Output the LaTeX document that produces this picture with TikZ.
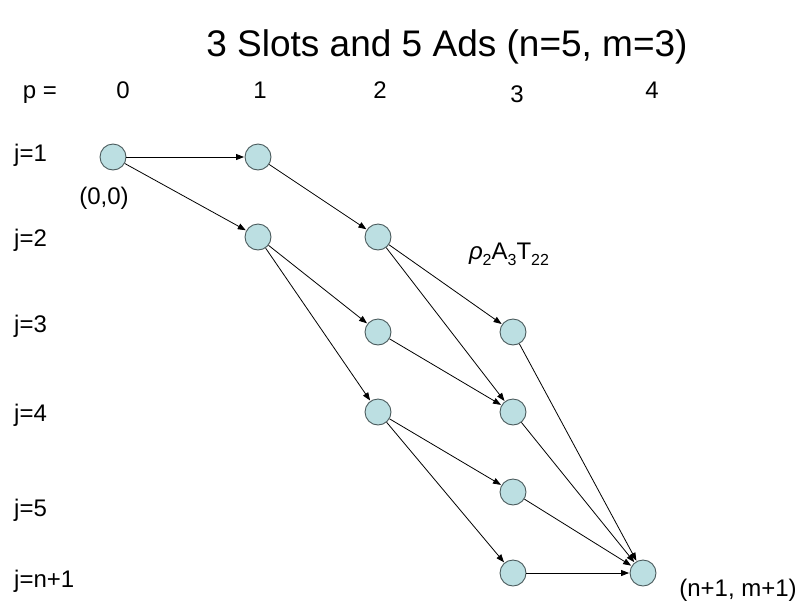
\documentclass[tikz,border=0pt]{standalone}
\usepackage{fontspec}
\setmainfont{Liberation Sans}
\usepackage{tikz}
\usetikzlibrary{positioning,arrows.meta}
\usepackage{xcolor}
\definecolor{stateFill}{HTML}{BCDFE2}
\definecolor{stateRim}{HTML}{4A5A5C}
\newcommand{\lowSub}[1]{\raisebox{-0.45ex}{\fontsize{16}{16}\selectfont #1}}

\begin{document}
\begin{tikzpicture}[x=1pt, y=-1pt,
        stateDot/.style={circle, draw=stateRim, fill=stateFill, line width=0.9pt, minimum size=26pt, inner sep=0pt},
        axisLabel/.style={font=\fontsize{24}{26}\selectfont, inner sep=0pt},
        arrowStyle/.style={-{Triangle[length=8pt, width=6pt]}, line width=0.8pt, draw=black, shorten >=0.5pt}
    ]
        \useasboundingbox (0,0) rectangle (800,603);

        % Title
        \node[font=\fontsize{37}{40}\selectfont, inner sep=0pt] (title) at (447,47) {3 Slots and 5 Ads (n=5, m=3)};

        % Column labels
        \node[axisLabel, anchor=base] (pLabel) at (40,98) {p =};
        \node[axisLabel] (pZero) at (123,90) {0};
        \node[axisLabel] (pOne) at (260,90) {1};
        \node[axisLabel] (pTwo) at (380,90) {2};
        \node[axisLabel] (pThree) at (517,94) {3};
        \node[axisLabel] (pFour) at (652,90) {4};

        % Row labels
        \node[axisLabel, anchor=west] (jOne) at (14,155) {j=1};
        \node[axisLabel, anchor=west] (jTwo) at (14,240) {j=2};
        \node[axisLabel, anchor=west] (jThree) at (14,326) {j=3};
        \node[axisLabel, anchor=west] (jFour) at (14,415) {j=4};
        \node[axisLabel, anchor=west] (jFive) at (14,510) {j=5};
        \node[axisLabel, anchor=west] (jLast) at (14,581) {j=n+1};

        % States
        \node[stateDot] (p0j1) at (113,157) {};
        \node[stateDot] (p1j1) at (258,157) {};
        \node[stateDot] (p1j2) at (258,237) {};
        \node[stateDot] (p2j2) at (378,237) {};
        \node[stateDot] (p2j3) at (378,332) {};
        \node[stateDot] (p2j4) at (378,412) {};
        \node[stateDot] (p3j3) at (513,332) {};
        \node[stateDot] (p3j4) at (513,412) {};
        \node[stateDot] (p3j5) at (513,492) {};
        \node[stateDot] (p3jLast) at (513,573) {};
        \node[stateDot] (p4jLast) at (643,573) {};

        % Extra labels
        \node[axisLabel] (startLabel) at (104,198) {(0,0)};
        \node[axisLabel] (edgeLabel) at (509,254) {\textit{ρ}\lowSub{2}A\lowSub{3}T\lowSub{22}};
        \node[axisLabel] (endLabel) at (738,590) {(n+1, m+1)};

        % Transitions
        \draw[arrowStyle] (p0j1) -- (p1j1);
        \draw[arrowStyle] (p0j1) -- (p1j2);
        \draw[arrowStyle] (p1j1) -- (p2j2);
        \draw[arrowStyle] (p1j2) -- (p2j3);
        \draw[arrowStyle] (p1j2) -- (p2j4);
        \draw[arrowStyle] (p2j2) -- (p3j3);
        \draw[arrowStyle] (p2j2) -- (p3j4);
        \draw[arrowStyle] (p2j3) -- (p3j4);
        \draw[arrowStyle] (p2j4) -- (p3j5);
        \draw[arrowStyle] (p2j4) -- (p3jLast);
        \draw[arrowStyle] (p3j3) -- (p4jLast);
        \draw[arrowStyle] (p3j4) -- (p4jLast);
        \draw[arrowStyle] (p3j5) -- (p4jLast);
        \draw[arrowStyle] (p3jLast) -- (p4jLast);
    \end{tikzpicture}
\end{document}
